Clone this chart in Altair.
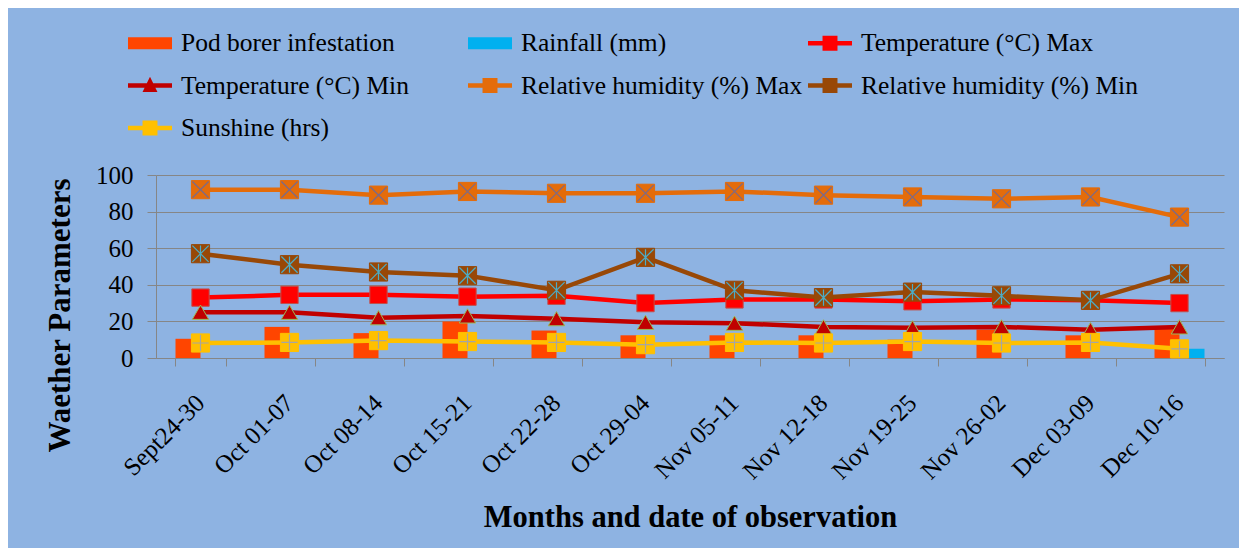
import altair as alt
import pandas as pd

# ---- data ----
dates = ["Sept24-30", "Oct 01-07", "Oct 08-14", "Oct 15-21", "Oct 22-28", "Oct 29-04",
         "Nov 05-11", "Nov 12-18", "Nov 19-25", "Nov 26-02", "Dec 03-09", "Dec 10-16"]
pod_borer = [10.5, 17, 13.6, 20, 15, 12.4, 12.4, 12.4, 10, 15.5, 12.4, 16.4]
rainfall = [0, 0, 0, 0, 0, 0, 0, 0, 0, 0, 0, 5]
temp_max = [33, 34.5, 34.5, 33.5, 34, 30, 32, 32, 31, 32, 31.5, 30]
temp_min = [25, 25, 22, 23, 21.5, 19.5, 19, 17, 16.5, 17, 15.5, 17]
rh_max = [92, 92, 89, 91, 90, 90, 91, 89, 88, 87, 88, 77]
rh_min = [57, 51, 47, 45, 37, 55, 37, 33, 36, 34, 31.5, 46]
sunshine = [8.2, 8.5, 9.5, 9, 8.5, 7.3, 8.5, 8.2, 9, 8.2, 8.5, 5]

SERIES = ["Pod borer infestation", "Rainfall (mm)", "Temperature (°C) Max",
          "Temperature (°C) Min", "Relative humidity (%) Max",
          "Relative humidity (%) Min", "Sunshine (hrs)"]
series_values = [pod_borer, rainfall, temp_max, temp_min, rh_max, rh_min, sunshine]

# ---- styles ----
COLORS = ["#FF4500", "#00B0F0", "#FF0000", "#C00000", "#E46C0A", "#984807", "#FFC000"]
BG = "#8EB3E2"
GRID = "#868686"
FONT = "Liberation Serif"

BAR_SYM = "M-1,-0.27H1V0.27H-1Z"
LINE_SQ = "M-1,-0.1H1V0.1H-1Z M-0.34,-0.34H0.34V0.34H-0.34Z"
LINE_TRI = "M-1,-0.1H1V0.1H-1Z M0,-0.4L0.34,0.3H-0.34Z"
LEGEND_SHAPES = [BAR_SYM, BAR_SYM, LINE_SQ, LINE_TRI, LINE_SQ, LINE_SQ, LINE_SQ]

X_GLYPH = "M-1,-1L1,1M-1,1L1,-1"
STAR_GLYPH = "M-1,-1L1,1M-1,1L1,-1M0,-1L0,1"
PLUS_GLYPH = "M-1,0L1,0M0,-1L0,1"

rows = []
for s, vals in zip(SERIES, series_values):
    for d, v in zip(dates, vals):
        rows.append({"date": d, "series": s, "value": v})
df = pd.DataFrame(rows)

x_enc = alt.X(
    "date:N", sort=dates, title="Months and date of observation",
    scale=alt.Scale(domain=dates, paddingInner=0.438, paddingOuter=0.219),
    axis=alt.Axis(labelAngle=-45, labelFont=FONT, labelFontSize=25, labelColor="black",
                  labelPadding=24, labelOffset=-9, labelLimit=300, tickBand="extent",
                  ticks=True, tickSize=8, tickColor=GRID, domainColor=GRID, grid=False,
                  titleFont=FONT, titleFontSize=30.5, titleFontWeight="bold",
                  titleColor="black", titleY=159, titleBaseline="middle"),
)
y_enc = alt.Y(
    "value:Q", title="Waether Parameters", stack=None,
    scale=alt.Scale(domain=[0, 100]),
    axis=alt.Axis(values=[0, 20, 40, 60, 80, 100], grid=True, gridColor=GRID, gridWidth=1.2,
                  domain=True, domainColor=GRID, ticks=True, tickSize=9, tickColor=GRID,
                  labelFont=FONT, labelFontSize=25, labelColor="black", labelPadding=14,
                  titleFont=FONT, titleFontSize=31, titleFontWeight="bold", titleColor="black",
                  titleAngle=-90, titleX=-96, titleY=140, titleAlign="center",
                  titleBaseline="middle"),
)

legend_kw = dict(orient="none", legendX=-28, legendY=-154, columns=3, direction="horizontal",
                 title=None, labelFont=FONT, labelFontSize=25.5, labelColor="black",
                 labelLimit=400, symbolSize=1936, symbolStrokeWidth=0, symbolOpacity=1,
                 gridAlign="all", columnPadding=5, rowPadding=6.5, labelOffset=9)
LEG = alt.Legend(**legend_kw)
color_scale = alt.Scale(domain=SERIES, range=COLORS)
color_enc = alt.Color("series:N", scale=color_scale, sort=SERIES, legend=LEG)

base = alt.Chart(df)

legend_layer = base.mark_point(filled=True, opacity=0).encode(
    x=x_enc, y=y_enc,
    color=color_enc,
    shape=alt.Shape("series:N", scale=alt.Scale(domain=SERIES, range=LEGEND_SHAPES),
                    sort=SERIES, legend=LEG),
)

bars = base.transform_filter(
    alt.FieldOneOfPredicate(field="series", oneOf=SERIES[:2])
).mark_bar().encode(
    x=x_enc,
    xOffset=alt.XOffset("series:N", scale=alt.Scale(domain=SERIES[:2], paddingInner=0, paddingOuter=0)),
    y=y_enc,
    color=color_enc,
)

line_specs = [
    # series, marker shape, marker size, marker stroke, glyph, glyph colour
    (SERIES[2], "square", 300, "#C0504D", None, None),
    (SERIES[3], "triangle-up", 270, "#9BBB59", None, None),
    (SERIES[4], "square", 330, "#E46C0A", X_GLYPH, "#7A6A8A"),
    (SERIES[5], "square", 330, "#984807", STAR_GLYPH, "#4BACC6"),
    (SERIES[6], "square", 330, "#FFC000", PLUS_GLYPH, "#A5A5A5"),
]

layers = [legend_layer, bars]
for s, shp, sz, stroke, glyph, gcol in line_specs:
    sub = base.transform_filter(alt.datum.series == s)
    layers.append(sub.mark_line(strokeWidth=4.5).encode(x=x_enc, y=y_enc, color=color_enc))
    layers.append(sub.mark_point(filled=True, shape=shp, size=sz, opacity=1,
                                 stroke=stroke, strokeWidth=1).encode(
        x=x_enc, y=y_enc, color=color_enc))
    if glyph:
        layers.append(sub.mark_point(filled=False, shape=glyph, size=sz * 0.8, opacity=1,
                                     stroke=gcol, strokeWidth=1.2).encode(x=x_enc, y=y_enc))

chart = alt.layer(*layers).properties(
    width=1068, height=183,
    background=BG,
    padding={"left": 148, "top": 167, "right": 15, "bottom": 190},
    autosize=alt.AutoSizeParams(type="none"),
).configure_view(stroke=None).configure_legend(
    labelFont=FONT, labelFontSize=25.5, labelColor="black"
).configure_axis(labelFont=FONT, titleFont=FONT)

chart.save("out.html", embed_options={"renderer": "svg", "actions": False})
